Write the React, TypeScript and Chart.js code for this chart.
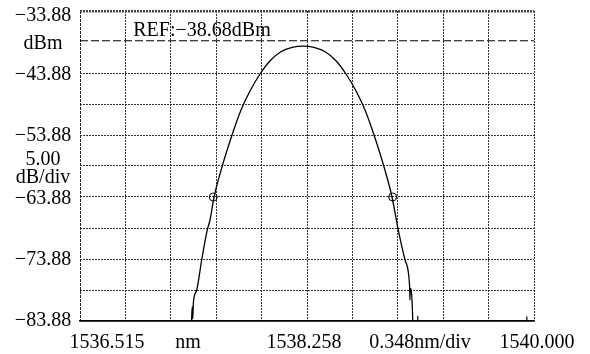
import React, { useEffect, useRef } from 'react';
import { Chart, registerables } from 'chart.js';

Chart.register(...registerables);

const X_MIN = 1536.515;
const X_MAX = 1540.0;
const Y_MIN = -83.88;
const Y_MAX = -33.88;
const X_DIVS = 10;
const Y_DIVS = 10;

// left-hand labels: text and the level (dBm) at which each is centred
const yLabelTexts = ['−33.88', 'dBm', '−43.88', '−53.88', '5.00', 'dB/div', '−63.88', '−73.88', '−83.88'];
const yLabelValues = [-34.64, -39.09, -44.2, -53.99, -57.83, -60.71, -64.09, -74.04, -83.88];

// bottom labels: text and the wavelength (nm) at which each is centred
const xLabelTexts = ['1536.515', 'nm', '1538.258', '0.348nm/div', '1540.000'];
const xLabelValues = [1536.722, 1537.344, 1538.234, 1539.125, 1540.023];

const wavelength = [
  1536.515, 1537.365, 1537.372, 1537.377, 1537.380, 1537.386, 1537.411, 1537.449, 1537.492, 1537.513,
  1537.544, 1537.605, 1537.682, 1537.751, 1537.820, 1537.897, 1537.974, 1538.054, 1538.143, 1538.227,
  1538.311, 1538.400, 1538.480, 1538.557, 1538.634, 1538.703, 1538.772, 1538.849, 1538.910, 1538.958,
  1539.010, 1539.045, 1539.048, 1539.050, 1539.069, 1539.075, 1539.105, 1539.108, 1539.111, 1539.943,
  1539.945, 1539.947, 1540.000,
];
const power = [
  -95, -95, -83.7, -81.6, -83.5, -80.8, -78.88, -74.04, -69.2, -67.59,
  -63.88, -59.04, -53.88, -49.85, -46.78, -44.04, -41.9, -40.49, -39.75, -39.53,
  -39.75, -40.49, -41.9, -44.04, -46.78, -49.85, -53.88, -59.04, -63.88, -69.2,
  -74.04, -78.2, -80.5, -78.6, -83.72, -95, -95, -83.0, -95, -95,
  -83.1, -95, -95,
];

const markerWavelength = [1537.538, 1538.915];
const markerPower = [-63.88, -63.88];

const refLevel = -38.68;
const refText = 'REF:−38.68dBm';
const refTextWavelength = 1536.924;
const refTextPower = -37.11;

const FONT = "'Liberation Serif', 'Times New Roman', serif";

export default function App() {
  const ref = useRef<HTMLCanvasElement>(null);

  useEffect(() => {
    document.body.style.margin = '0';
    const canvas = ref.current;
    if (!canvas) return;

    const xGridValues: number[] = [];
    for (let i = 0; i <= X_DIVS; i++) xGridValues.push(X_MIN + ((X_MAX - X_MIN) * i) / X_DIVS);
    const yGridValues: number[] = [];
    for (let i = 0; i <= Y_DIVS; i++) yGridValues.push(Y_MIN + ((Y_MAX - Y_MIN) * i) / Y_DIVS);

    const near = (a: number, b: number) => Math.abs(a - b) < 1e-6;

    const textPlugin = {
      id: 'osaText',
      afterDraw(chart: any) {
        const { ctx, chartArea, scales } = chart;
        const xs = scales.x;
        const ys = scales.y;
        ctx.save();
        ctx.fillStyle = '#000';
        ctx.font = `20px ${FONT}`;
        ctx.textAlign = 'center';
        ctx.textBaseline = 'alphabetic';
        xLabelTexts.forEach((t, i) => {
          ctx.fillText(t, xs.getPixelForValue(xLabelValues[i]), chartArea.bottom + 27);
        });
        ctx.textBaseline = 'middle';
        yLabelTexts.forEach((t, i) => {
          ctx.fillText(t, chartArea.left - 37, ys.getPixelForValue(yLabelValues[i]));
        });
        ctx.textAlign = 'left';
        ctx.fillText(refText, xs.getPixelForValue(refTextWavelength), ys.getPixelForValue(refTextPower));
        ctx.restore();
      },
    };

    const chart = new Chart(canvas, {
      type: 'line',
      data: {
        datasets: [
          {
            data: wavelength.map((x, i) => ({ x, y: power[i] })),
            borderColor: '#000',
            borderWidth: 1.3,
            pointRadius: 0,
            cubicInterpolationMode: 'monotone',
            fill: false,
          },
          {
            data: [
              { x: X_MIN, y: refLevel },
              { x: X_MAX, y: refLevel },
            ],
            borderColor: '#000',
            borderWidth: 1,
            borderDash: [8, 3],
            pointRadius: 0,
            fill: false,
          },
          {
            data: markerWavelength.map((x, i) => ({ x, y: markerPower[i] })),
            showLine: false,
            pointRadius: 4,
            pointBorderColor: '#000',
            pointBackgroundColor: 'rgba(0,0,0,0)',
            pointBorderWidth: 1,
          },
        ],
      },
      options: {
        animation: false,
        responsive: false,
        devicePixelRatio: 1,
        layout: { padding: { top: 11, right: 56, left: 0, bottom: 0 } },
        plugins: { legend: { display: false }, tooltip: { enabled: false } },
        scales: {
          x: {
            type: 'linear',
            min: X_MIN,
            max: X_MAX,
            afterBuildTicks: (s: any) => {
              s.ticks = xGridValues.map((v) => ({ value: v }));
            },
            afterFit: (s: any) => {
              s.height = 33;
              s.paddingLeft = 0;
              s.paddingRight = 0;
            },
            ticks: { display: false },
            grid: {
              color: (c: any) => (c.tick && near(c.tick.value, X_MIN) ? '#222' : '#333'),
              lineWidth: 1,
              drawTicks: false,
            },
            border: {
              display: true,
              color: '#000',
              width: 1.5,
              dash: (c: any) => (c.tick && near(c.tick.value, X_MIN) ? [3, 1] : [2, 1]),
            },
          },
          y: {
            type: 'linear',
            min: Y_MIN,
            max: Y_MAX,
            afterBuildTicks: (s: any) => {
              s.ticks = yGridValues.map((v) => ({ value: v }));
            },
            afterFit: (s: any) => {
              s.width = 80;
              s.paddingTop = 0;
              s.paddingBottom = 0;
            },
            ticks: { display: false },
            grid: {
              drawTicks: false,
              color: (c: any) => {
                const v = c.tick ? c.tick.value : 0;
                if (near(v, Y_MAX)) return '#444';
                if (near(v, Y_MIN)) return '#000';
                if (Math.abs(v - refLevel) < 1) return 'rgba(0,0,0,0)';
                return '#333';
              },
              lineWidth: (c: any) => {
                const v = c.tick ? c.tick.value : 0;
                if (near(v, Y_MAX)) return 2.5;
                if (near(v, Y_MIN)) return 1.5;
                return 1;
              },
            },
            border: {
              display: false,
              dash: (c: any) => {
                const v = c.tick ? c.tick.value : 0;
                if (near(v, Y_MIN)) return [];
                return [2, 1];
              },
            },
          },
        },
      },
      plugins: [textPlugin],
    } as any);

    return () => chart.destroy();
  }, []);

  return (
    <div style={{ width: 590, height: 354 }}>
      <canvas ref={ref} width={590} height={354} style={{ display: 'block' }} />
    </div>
  );
}
